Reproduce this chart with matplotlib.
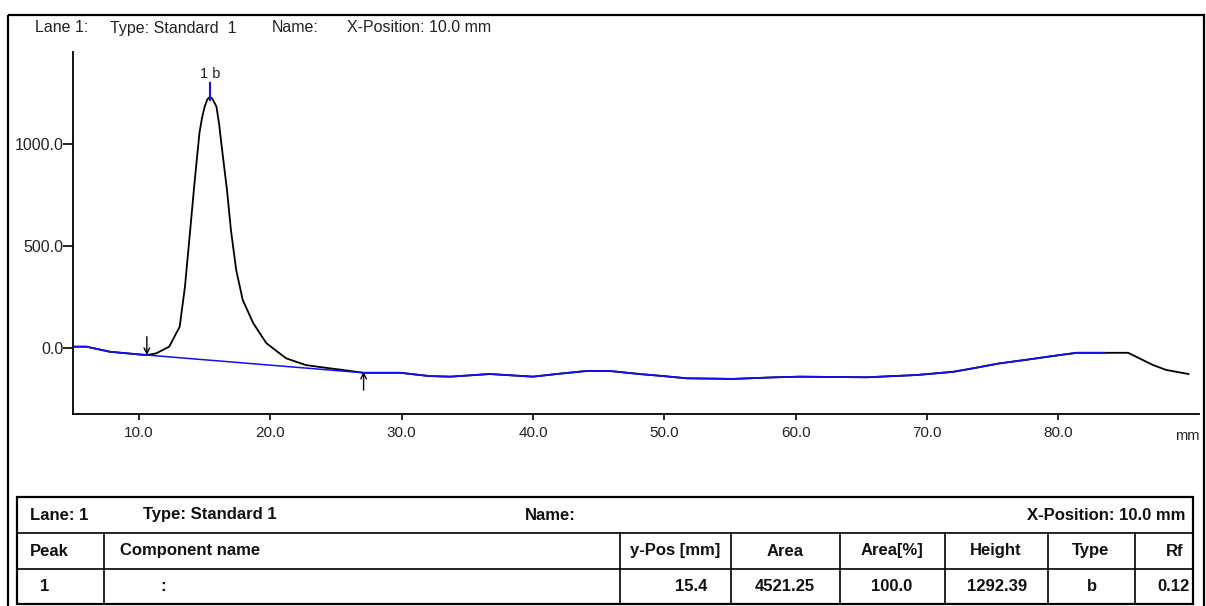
import numpy as np
import matplotlib.pyplot as plt
from matplotlib.patches import Rectangle

plt.rcParams['font.family'] = ['Liberation Sans', 'DejaVu Sans']

# densitogram trace (x in mm, signal)
trace_x = [5.0, 6.0, 7.8, 9.0, 10.0, 10.6, 11.3, 12.3, 13.1, 13.5, 13.9, 14.2, 14.6,
           14.8, 15.0, 15.2, 15.4, 15.6, 15.9, 16.1, 16.3, 16.7, 17.0, 17.4, 17.9,
           18.7, 19.7, 21.2, 22.7, 23.8, 25.5, 27.1, 29.9, 32.1, 33.7, 36.7, 40.0,
           41.8, 44.1, 45.8, 48.1, 49.9, 51.7, 55.2, 58.5, 60.3, 65.4, 69.2, 72.0,
           73.5, 75.5, 77.8, 80.1, 81.4, 83.5, 85.3, 87.2, 88.2, 89.9]
trace_y = [8, 8, -17, -24, -30, -33, -25, 8, 106, 302, 580, 792, 1054,
           1130, 1184, 1220, 1233, 1222, 1184, 1100, 988, 776, 580, 384, 237,
           123, 25, -49, -82, -92, -106, -120, -120, -136, -139, -126, -139,
           -126, -111, -111, -126, -136, -147, -150, -142, -139, -142, -131, -115,
           -98, -74, -54, -33, -22, -22, -22, -82, -106, -126]

# baseline of the peak (start / end)
base_x = [10.6, 27.1]
base_y = [-33, -120]

peak_pos = 15.4
peak_label = '1 b'

y_ticks = [0, 500, 1000]
x_ticks = [10, 20, 30, 40, 50, 60, 70, 80]

header_cols = ['Peak', 'Component name', 'y-Pos [mm]', 'Area', 'Area[%]', 'Height', 'Type', 'Rf']
row_vals = ['1', ':', '15.4', '4521.25', '100.0', '1292.39', 'b', '0.12']

W, H = 1206, 606
blue = '#1010f0'
txt = '#222222'

fig = plt.figure(figsize=(W / 100, H / 100), dpi=100)

# main plot, placed in pixels
ax = fig.add_axes([73.3 / W, 1 - 414 / H, (1199 - 73.3) / W, (414 - 51.7) / H])
ax.set_xlim(5.0, 90.7)
ax.set_ylim(-322, 1454)
for s in ['top', 'right']:
    ax.spines[s].set_visible(False)
for s in ['left', 'bottom']:
    ax.spines[s].set_linewidth(1.3)

tx = np.array(trace_x)
ty = np.array(trace_y, dtype=float)
ax.plot(tx, ty, color='k', lw=1.3, zorder=2)
on_base = (tx <= base_x[0]) | ((tx >= base_x[1]) & (tx <= 83.5))
ax.plot(tx, np.where(on_base, ty, np.nan), color=blue, lw=1.3, zorder=3)
ax.plot(base_x, base_y, color=blue, lw=1.1, zorder=3)

# start / end arrows
ax.annotate('', xy=(base_x[0], base_y[0]), xytext=(base_x[0], base_y[0] + 90),
            arrowprops=dict(arrowstyle='->', color='k', lw=1.0, shrinkA=0, shrinkB=0))
ax.annotate('', xy=(base_x[1], base_y[1] + 5), xytext=(base_x[1], base_y[1] - 85),
            arrowprops=dict(arrowstyle='->', color='k', lw=1.0, shrinkA=0, shrinkB=0))

# peak marker
ax.plot([peak_pos, peak_pos], [1217, 1299], color=blue, lw=1.5, zorder=4)
ax.text(peak_pos, 1345, peak_label, ha='center', va='center', fontsize=10.5, color=txt)

ax.set_yticks(y_ticks)
ax.set_yticklabels(['%.1f' % v for v in y_ticks])
ax.set_xticks(x_ticks)
ax.set_xticklabels(['%.1f' % v for v in x_ticks])
ax.tick_params(axis='y', length=7, width=1.2, pad=0, labelsize=11.5, labelcolor=txt)
ax.tick_params(axis='x', length=4.5, width=1.2, pad=4, labelsize=11, labelcolor=txt)

# overlay in pixel coordinates for frame, header and table
ov = fig.add_axes([0, 0, 1, 1])
ov.set_xlim(0, W)
ov.set_ylim(H, 0)
ov.axis('off')

ov.add_patch(Rectangle((8, 15), 1196, 600, fill=False, lw=1.6, ec='k'))

hkw = dict(fontsize=11.5, va='center', color=txt)
ov.text(35, 28, 'Lane 1:', **hkw)
ov.text(110, 28, 'Type: Standard  1', **hkw)
ov.text(272, 28, 'Name:', **hkw)
ov.text(347, 28, 'X-Position: 10.0 mm', **hkw)
ov.text(1200, 436, 'mm', ha='right', fontsize=10.5, va='center', color=txt)

# table
t_left, t_right = 17, 1193
rows = [497, 533, 569, 604]
col_edges = [17, 104, 620, 731, 840, 945, 1048, 1135, 1193]
ov.add_patch(Rectangle((t_left, rows[0]), t_right - t_left, rows[3] - rows[0],
                       fill=False, lw=1.6, ec='k'))
for r in rows[1:3]:
    ov.plot([t_left, t_right], [r, r], color='k', lw=1.2)
for c in col_edges[1:-1]:
    ov.plot([c, c], [rows[1], rows[3]], color='k', lw=1.2)

tkw = dict(fontsize=12, fontweight='bold', va='center', color='#111')
yc = [(rows[i] + rows[i + 1]) / 2 for i in range(3)]
ov.text(30, yc[0], 'Lane: 1', **tkw)
ov.text(143, yc[0], 'Type: Standard 1', **tkw)
ov.text(525, yc[0], 'Name:', **tkw)
ov.text(1185, yc[0], 'X-Position: 10.0 mm', ha='right', **tkw)

hdr_x = [30, 120, 675, 785, 892, 996, 1091, 1175]
hdr_ha = ['left', 'left', 'center', 'center', 'center', 'center', 'center', 'center']
for x, lab, ha in zip(hdr_x, header_cols, hdr_ha):
    ov.text(x, yc[1], lab, ha=ha, **tkw)

val_x = [45, 163, 691, 785, 892, 997, 1092, 1173]
for x, v in zip(val_x, row_vals):
    ov.text(x, yc[2], v, ha='center', **tkw)

fig.savefig('out.png', dpi=100)
